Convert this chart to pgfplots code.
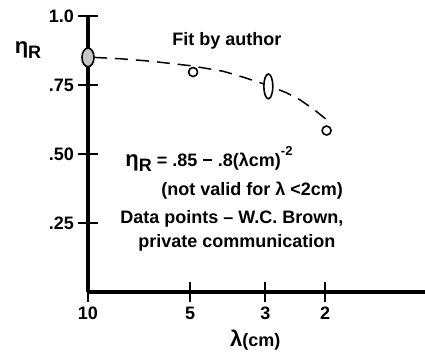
\documentclass[border=0pt]{standalone}
\usepackage{fontspec}
\setmainfont{Liberation Sans}
\usepackage{pgfplots}
\pgfplotsset{compat=1.18}

\newcommand{\txt}{\fontsize{18}{21}\selectfont\bfseries}
\newcommand{\bigtxt}{\fontsize{22}{25}\selectfont\bfseries}

\begin{document}
\txt
\begin{tikzpicture}
\begin{axis}[
    scale only axis,
    width=337pt, height=276pt,
    xmode=log, x dir=reverse,
    xmin=1.015, xmax=10, ymin=0, ymax=1,
    axis x line=bottom, axis y line=left,
    axis line style={-, line width=3.4pt},
    xtick={10,5,3,2}, xticklabels={10,5,3,2},
    ytick={0.25,0.5,0.75,1}, yticklabels={.25,.50,.75,1.0},
    xminorticks=false, yminorticks=false,
    tick align=center, major tick length=20pt,
    tick style={line width=1.8pt, black},
    tick label style={font=\txt},
    yticklabel style={xshift=2pt},
    xticklabel style={yshift=1pt},
    /pgf/number format/assume math mode=true,
    clip=false,
]
% fit curve, values
\addplot[black, line width=1.5pt, dash pattern=on 13pt off 8pt] coordinates {
    (9.6,0.850) (8,0.845) (6.5,0.836) (5,0.820) (4,0.800)
    (3.5,0.779) (3,0.752) (2.6,0.722) (2.37,0.696) (2.15,0.660) (1.96,0.620)
};
% data points
\addplot[only marks, mark=*, mark size=6pt,
    mark options={fill=gray!45, draw=black, line width=1.6pt, yscale=1.55}]
    coordinates {(10,0.850)};
\addplot[only marks, mark=*, mark size=4.5pt,
    mark options={fill=white, draw=black, line width=1.6pt, yscale=2.75}]
    coordinates {(2.94,0.745)};
\addplot[only marks, mark=*, mark size=4.5pt,
    mark options={fill=white, draw=black, line width=1.6pt}]
    coordinates {(4.9,0.797) (1.98,0.585)};

\node[font=\txt] at (axis description cs:0.412,0.909) {Fit by author};
\node[font=\txt] at (axis description cs:0.359,0.482)
    {{\bigtxt η}\raisebox{-0.5ex}{R} = .85 − .8(λcm)\raisebox{1.1ex}{\fontsize{13}{15}\selectfont\bfseries -2}};
\node[font=\txt] at (axis description cs:0.487,0.368) {(not valid for λ <2cm)};
\node[font=\txt] at (axis description cs:0.427,0.264) {Data points – W.C. Brown,};
\node[font=\txt] at (axis description cs:0.442,0.178) {private communication};
\node[font=\txt] at (axis description cs:-0.178,0.877) {{\bigtxt η}\raisebox{-0.6ex}{R}};
\node[font=\txt] at (axis description cs:0.496,-0.174) {{\bigtxt λ}(cm)};
\end{axis}
\pgfresetboundingbox
\path[use as bounding box] (-88pt,-61pt) rectangle (337pt,292pt);
\end{tikzpicture}
\end{document}
